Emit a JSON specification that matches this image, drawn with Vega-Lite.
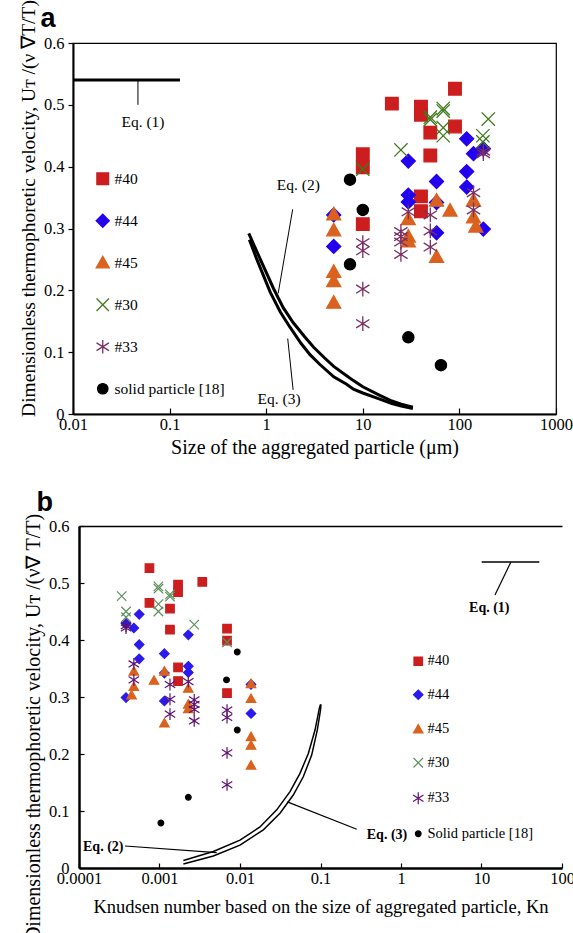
{
"$schema": "https://vega.github.io/schema/vega-lite/v6.json",
"autosize": "none",
"padding": {"left": 73, "top": 43, "right": 500, "bottom": 890},
"background": "white",
"bounds": "flush",
"spacing": 112,
"config": {
  "view": {"stroke": null},
  "axis": {"grid": false, "domainColor": "black", "tickColor": "black", "labelColor": "black", "titleColor": "black", "labelFont": "Liberation Serif", "titleFont": "Liberation Serif", "labelFontSize": 16.5, "titleFontSize": 17, "titleFontWeight": "normal", "domainWidth": 2, "tickWidth": 1.2},
  "legend": {"labelFont": "Liberation Serif", "labelColor": "black"},
  "text": {"font": "Liberation Serif", "color": "black"}
},
"resolve": {
  "scale": {"x": "independent", "y": "independent", "shape": "independent", "fill": "independent", "stroke": "independent"},
  "legend": {"shape": "independent", "fill": "independent", "stroke": "independent"}
},
"datasets": {
  "pts": [
    {"s": "#40", "d": 10, "kn": 0.0069, "u": 0.420},
    {"s": "#40", "d": 10, "kn": 0.0069, "u": 0.399},
    {"s": "#40", "d": 10, "kn": 0.0069, "u": 0.307},
    {"s": "#40", "d": 20, "kn": 0.0034, "u": 0.502},
    {"s": "#40", "d": 40, "kn": 0.0017, "u": 0.497},
    {"s": "#40", "d": 40, "kn": 0.0017, "u": 0.484},
    {"s": "#40", "d": 40, "kn": 0.0017, "u": 0.352},
    {"s": "#40", "d": 40, "kn": 0.0017, "u": 0.328},
    {"s": "#40", "d": 50, "kn": 0.00135, "u": 0.455},
    {"s": "#40", "d": 50, "kn": 0.00135, "u": 0.418},
    {"s": "#40", "d": 90, "kn": 0.00075, "u": 0.526},
    {"s": "#40", "d": 90, "kn": 0.00075, "u": 0.465},
    {"s": "#44", "d": 5, "kn": 0.0137, "u": 0.322},
    {"s": "#44", "d": 5, "kn": 0.0137, "u": 0.271},
    {"s": "#44", "d": 29.6, "kn": 0.00228, "u": 0.409},
    {"s": "#44", "d": 29.6, "kn": 0.00228, "u": 0.354},
    {"s": "#44", "d": 29.6, "kn": 0.00228, "u": 0.343},
    {"s": "#44", "d": 58, "kn": 0.00115, "u": 0.376},
    {"s": "#44", "d": 58, "kn": 0.00115, "u": 0.342},
    {"s": "#44", "d": 58, "kn": 0.00115, "u": 0.293},
    {"s": "#44", "d": 119, "kn": 0.00056, "u": 0.445},
    {"s": "#44", "d": 119, "kn": 0.00056, "u": 0.392},
    {"s": "#44", "d": 119, "kn": 0.00056, "u": 0.367},
    {"s": "#44", "d": 140, "kn": 0.00048, "u": 0.421},
    {"s": "#44", "d": 177, "kn": 0.000384, "u": 0.429},
    {"s": "#44", "d": 177, "kn": 0.000384, "u": 0.299},
    {"s": "#45", "d": 5, "kn": 0.0137, "u": 0.323},
    {"s": "#45", "d": 5, "kn": 0.0137, "u": 0.297},
    {"s": "#45", "d": 5, "kn": 0.0137, "u": 0.230},
    {"s": "#45", "d": 5, "kn": 0.0137, "u": 0.215},
    {"s": "#45", "d": 5, "kn": 0.0137, "u": 0.180},
    {"s": "#45", "d": 29.6, "kn": 0.00228, "u": 0.315},
    {"s": "#45", "d": 29.6, "kn": 0.00228, "u": 0.287},
    {"s": "#45", "d": 29.6, "kn": 0.00228, "u": 0.279},
    {"s": "#45", "d": 58, "kn": 0.00115, "u": 0.345},
    {"s": "#45", "d": 58, "kn": 0.00115, "u": 0.254},
    {"s": "#45", "d": 80, "kn": 0.000855, "u": 0.329},
    {"s": "#45", "d": 140, "kn": 0.00048, "u": 0.345},
    {"s": "#45", "d": 140, "kn": 0.00048, "u": 0.318},
    {"s": "#45", "d": 148, "kn": 0.00045, "u": 0.303},
    {"s": "#30", "d": 10, "kn": 0.0069, "u": 0.396},
    {"s": "#30", "d": 24.8, "kn": 0.0027, "u": 0.427},
    {"s": "#30", "d": 50, "kn": 0.00135, "u": 0.480},
    {"s": "#30", "d": 50, "kn": 0.00135, "u": 0.476},
    {"s": "#30", "d": 68, "kn": 0.00097, "u": 0.494},
    {"s": "#30", "d": 68, "kn": 0.00097, "u": 0.490},
    {"s": "#30", "d": 68, "kn": 0.00097, "u": 0.463},
    {"s": "#30", "d": 68, "kn": 0.00097, "u": 0.450},
    {"s": "#30", "d": 175, "kn": 0.000384, "u": 0.450},
    {"s": "#30", "d": 175, "kn": 0.000384, "u": 0.440},
    {"s": "#30", "d": 199, "kn": 0.000339, "u": 0.477},
    {"s": "#33", "d": 10, "kn": 0.0069, "u": 0.277},
    {"s": "#33", "d": 10, "kn": 0.0069, "u": 0.264},
    {"s": "#33", "d": 10, "kn": 0.0069, "u": 0.202},
    {"s": "#33", "d": 10, "kn": 0.0069, "u": 0.146},
    {"s": "#33", "d": 24.8, "kn": 0.0027, "u": 0.295},
    {"s": "#33", "d": 24.8, "kn": 0.0027, "u": 0.287},
    {"s": "#33", "d": 24.8, "kn": 0.0027, "u": 0.278},
    {"s": "#33", "d": 24.8, "kn": 0.0027, "u": 0.258},
    {"s": "#33", "d": 29.6, "kn": 0.00228, "u": 0.327},
    {"s": "#33", "d": 50, "kn": 0.00135, "u": 0.322},
    {"s": "#33", "d": 50, "kn": 0.00135, "u": 0.296},
    {"s": "#33", "d": 50, "kn": 0.00135, "u": 0.270},
    {"s": "#33", "d": 140, "kn": 0.00048, "u": 0.358},
    {"s": "#33", "d": 140, "kn": 0.00048, "u": 0.330},
    {"s": "#33", "d": 177, "kn": 0.000384, "u": 0.425},
    {"s": "#33", "d": 177, "kn": 0.000384, "u": 0.421},
    {"s": "solid particle [18]", "d": 7.37, "kn": 0.00925, "u": 0.379},
    {"s": "solid particle [18]", "d": 10, "kn": 0.0068, "u": 0.330},
    {"s": "solid particle [18]", "d": 7.37, "kn": 0.00925, "u": 0.242},
    {"s": "solid particle [18]", "d": 29.6, "kn": 0.00228, "u": 0.124},
    {"s": "solid particle [18]", "d": 64.4, "kn": 0.00104, "u": 0.079}
  ],
  "curveA": [
    {"eq": "1", "d": 0.01, "u": 0.54}, {"eq": "1", "d": 0.128, "u": 0.54},
    {"eq": "2", "d": 0.66, "u": 0.292}, {"eq": "2", "d": 0.87, "u": 0.250}, {"eq": "2", "d": 1.19, "u": 0.203}, {"eq": "2", "d": 1.5, "u": 0.172}, {"eq": "2", "d": 1.9, "u": 0.148}, {"eq": "2", "d": 2.5, "u": 0.125}, {"eq": "2", "d": 3.1, "u": 0.108}, {"eq": "2", "d": 4.0, "u": 0.091}, {"eq": "2", "d": 5.0, "u": 0.077}, {"eq": "2", "d": 6.8, "u": 0.062}, {"eq": "2", "d": 8.0, "u": 0.054}, {"eq": "2", "d": 10, "u": 0.044}, {"eq": "2", "d": 15, "u": 0.030}, {"eq": "2", "d": 20, "u": 0.021}, {"eq": "2", "d": 25, "u": 0.016}, {"eq": "2", "d": 33, "u": 0.011},
    {"eq": "3", "d": 0.67, "u": 0.282}, {"eq": "3", "d": 0.8, "u": 0.250}, {"eq": "3", "d": 1.1, "u": 0.197}, {"eq": "3", "d": 1.4, "u": 0.165}, {"eq": "3", "d": 1.77, "u": 0.140}, {"eq": "3", "d": 2.3, "u": 0.114}, {"eq": "3", "d": 2.84, "u": 0.096}, {"eq": "3", "d": 3.6, "u": 0.080}, {"eq": "3", "d": 5.0, "u": 0.060}, {"eq": "3", "d": 6.8, "u": 0.048}, {"eq": "3", "d": 8.0, "u": 0.040}, {"eq": "3", "d": 10, "u": 0.034}, {"eq": "3", "d": 15, "u": 0.024}, {"eq": "3", "d": 20, "u": 0.017}, {"eq": "3", "d": 25, "u": 0.013}, {"eq": "3", "d": 33, "u": 0.009}
  ],
  "curveB": [
    {"eq": "1", "kn": 10.05, "u": 0.537}, {"eq": "1", "kn": 52.3, "u": 0.537},
    {"eq": "2", "kn": 0.00198, "u": 0.013}, {"eq": "2", "kn": 0.00466, "u": 0.029}, {"eq": "2", "kn": 0.01, "u": 0.049}, {"eq": "2", "kn": 0.0177, "u": 0.072}, {"eq": "2", "kn": 0.0286, "u": 0.102}, {"eq": "2", "kn": 0.0418, "u": 0.134}, {"eq": "2", "kn": 0.0556, "u": 0.166}, {"eq": "2", "kn": 0.0706, "u": 0.201}, {"eq": "2", "kn": 0.0855, "u": 0.242}, {"eq": "2", "kn": 0.0967, "u": 0.280}, {"eq": "2", "kn": 0.1, "u": 0.287},
    {"eq": "3", "kn": 0.00198, "u": 0.007}, {"eq": "3", "kn": 0.00466, "u": 0.021}, {"eq": "3", "kn": 0.01, "u": 0.040}, {"eq": "3", "kn": 0.0195, "u": 0.067}, {"eq": "3", "kn": 0.0314, "u": 0.096}, {"eq": "3", "kn": 0.0459, "u": 0.128}, {"eq": "3", "kn": 0.0611, "u": 0.160}, {"eq": "3", "kn": 0.0777, "u": 0.198}, {"eq": "3", "kn": 0.0912, "u": 0.242}, {"eq": "3", "kn": 0.1, "u": 0.277}, {"eq": "3", "kn": 0.1014, "u": 0.287}
  ],
  "leadA": [
    {"d": 0.047, "u": 0.54, "d2": 0.047, "u2": 0.50},
    {"d": 1.88, "u": 0.331, "d2": 1.33, "u2": 0.195},
    {"d": 1.9, "u": 0.039, "d2": 1.67, "u2": 0.122}
  ],
  "annA": [
    {"t": "Eq. (1)", "d": 0.053, "u": 0.473},
    {"t": "Eq. (2)", "d": 2.15, "u": 0.370},
    {"t": "Eq. (3)", "d": 1.36, "u": 0.025}
  ],
  "leadB": [
    {"kn": 23.2, "u": 0.537, "kn2": 14.7, "u2": 0.479},
    {"kn": 0.000373, "u": 0.0386, "kn2": 0.00514, "u2": 0.027},
    {"kn": 0.0387, "u": 0.116, "kn2": 0.282, "u2": 0.068}
  ],
  "annB": [
    {"t": "Eq. (1)", "kn": 12.5, "u": 0.456},
    {"t": "Eq. (2)", "kn": 0.0002, "u": 0.037},
    {"t": "Eq. (3)", "kn": 0.67, "u": 0.058}
  ]
},
"vconcat": [
  {
    "width": 483, "height": 371,
    "view": {"stroke": "black", "strokeWidth": 1.2},
    "resolve": {"axis": {"x": "independent"}},
    "encoding": {
      "y": {"field": "u", "type": "quantitative", "title": "Dimensionless thermophoretic velocity, Uᴛ /(ν ∇T/T)",
            "scale": {"domain": [0, 0.6]},
            "axis": {"values": [0, 0.1, 0.2, 0.3, 0.4, 0.5, 0.6], "labelExpr": "datum.value == 0 ? '0' : format(datum.value, '.1f')", "tickSize": 5, "labelPadding": 4, "titlePadding": 5, "titleY": 165, "titleFontSize": 19.5}}
    },
    "layer": [
      {"data": {"name": "curveA"}, "mark": {"type": "line", "color": "black", "strokeWidth": 3},
       "encoding": {
         "x": {"field": "d", "type": "quantitative", "title": "a",
               "axis": {"orient": "top", "domain": false, "ticks": false, "labels": false, "titleX": -33, "titleY": -17, "titleAlign": "left", "titleBaseline": "alphabetic", "titleFont": "Liberation Sans", "titleFontSize": 27, "titleFontWeight": "bold"}},
         "detail": {"field": "eq"}}},
      {"data": {"name": "leadA"}, "mark": {"type": "rule", "color": "black", "strokeWidth": 1},
       "encoding": {"x": {"field": "d", "type": "quantitative", "axis": null}, "x2": {"field": "d2"}, "y2": {"field": "u2"}}},
      {"data": {"name": "annA"}, "mark": {"type": "text", "fontSize": 15.5, "align": "center", "baseline": "middle"},
       "encoding": {"x": {"field": "d", "type": "quantitative", "axis": null}, "text": {"field": "t"}}},
      {"data": {"name": "pts"}, "mark": {"type": "point", "filled": true, "opacity": 1, "size": 196, "strokeWidth": 1.3},
       "encoding": {
         "x": {"field": "d", "type": "quantitative", "title": "Size of the aggregated particle (μm)",
               "scale": {"type": "log", "domain": [0.01, 1000]},
               "axis": {"orient": "bottom", "values": [0.01, 0.1, 1, 10, 100, 1000], "labelExpr": "'' + datum.value", "tickSize": -6, "labelPadding": 8, "titleFontSize": 20, "titlePadding": 5, "labelFlush": false}},
         "shape": {"field": "s", "type": "nominal",
           "scale": {"domain": ["#40", "#44", "#45", "#30", "#33", "solid particle [18]"],
                     "range": ["M-0.9,-0.9H0.9V0.9H-0.9Z", "M0,-1L1,0L0,1L-1,0Z", "M0,-1L1,0.78L-1,0.78Z", "M-0.95,-0.95L0.95,0.95M-0.95,0.95L0.95,-0.95", "M0,-1.05V1.05M-0.95,-0.6L0.95,0.6M-0.95,0.6L0.95,-0.6", "M0.8,0A0.8,0.8,0,1,1,-0.8,0A0.8,0.8,0,1,1,0.8,0Z"]},
           "legend": {"orient": "none", "legendX": 22, "legendY": 128, "title": null, "symbolSize": 170, "labelFontSize": 15.5, "rowPadding": 23, "labelOffset": 4, "padding": 0, "symbolStrokeWidth": 1.3}},
         "fill": {"field": "s", "type": "nominal", "scale": {"domain": ["#40", "#44", "#45", "#30", "#33", "solid particle [18]"], "range": ["#CC1E1E", "#2200EE", "#DA621E", "#3D7A1A", "#7B2E62", "#000000"]}},
         "stroke": {"field": "s", "type": "nominal", "scale": {"domain": ["#40", "#44", "#45", "#30", "#33", "solid particle [18]"], "range": ["#CC1E1E", "#2200EE", "#DA621E", "#3D7A1A", "#7B2E62", "#000000"]}}
       }}
    ]
  },
  {
    "width": 489, "height": 342,
    "resolve": {"axis": {"x": "independent"}},
    "encoding": {
      "y": {"field": "u", "type": "quantitative", "title": "Dimensionless thermophoretic velocity,  Uᴛ /(ν∇  T/T)",
            "scale": {"domain": [0, 0.6]},
            "axis": {"values": [0, 0.1, 0.2, 0.3, 0.4, 0.5, 0.6], "labelExpr": "datum.value == 0 ? '0' : format(datum.value, '.1f')", "offset": -6, "tickSize": -5, "labelPadding": 15, "titlePadding": 5, "titleY": 201, "titleFontSize": 20, "domainWidth": 2.5}}
    },
    "layer": [
      {"data": {"values": [{}]}, "mark": {"type": "rule", "color": "black", "strokeWidth": 1.5},
       "encoding": {"x": {"datum": 100, "axis": null}, "y": {"datum": 0}, "y2": {"datum": 0.6}}},
      {"data": {"name": "curveB"}, "mark": {"type": "line", "color": "black", "strokeWidth": 1.5},
       "encoding": {
         "x": {"field": "kn", "type": "quantitative", "title": "b",
               "axis": {"orient": "top", "domain": true, "domainWidth": 1.5, "ticks": false, "labels": false, "titleX": -37, "titleY": -16, "titleAlign": "left", "titleBaseline": "alphabetic", "titleFont": "Liberation Sans", "titleFontSize": 27, "titleFontWeight": "bold"}},
         "detail": {"field": "eq"}}},
      {"data": {"name": "leadB"}, "mark": {"type": "rule", "color": "black", "strokeWidth": 1.2},
       "encoding": {"x": {"field": "kn", "type": "quantitative", "axis": null}, "x2": {"field": "kn2"}, "y2": {"field": "u2"}}},
      {"data": {"name": "annB"}, "mark": {"type": "text", "fontSize": 14, "fontWeight": "bold", "align": "center", "baseline": "middle"},
       "encoding": {"x": {"field": "kn", "type": "quantitative", "axis": null}, "text": {"field": "t"}}},
      {"data": {"name": "pts"}, "mark": {"type": "point", "filled": true, "opacity": 1, "size": 90, "strokeWidth": 1.2},
       "encoding": {
         "x": {"field": "kn", "type": "quantitative", "title": "Knudsen number  based on the size of aggregated particle, Kn",
               "scale": {"type": "log", "domain": [0.0001, 100], "range": [6, 489]},
               "axis": {"orient": "bottom", "values": [0.0001, 0.001, 0.01, 0.1, 1, 10, 100], "labelExpr": "'' + datum.value", "tickSize": -5, "labelPadding": 7, "titleFontSize": 18.5, "titlePadding": 11, "labelFlush": false, "domainWidth": 2.5}},
         "shape": {"field": "s", "type": "nominal",
           "scale": {"domain": ["#40", "#44", "#45", "#30", "#33", "solid particle [18]"],
                     "range": ["M-0.9,-0.9H0.9V0.9H-0.9Z", "M0,-1L1,0L0,1L-1,0Z", "M0,-1L1,0.78L-1,0.78Z", "M-1,-1L1,1M-1,1L1,-1", "M0,-1.25V1.25M-1.1,-0.7L1.1,0.7M-1.1,0.7L1.1,-0.7", "M0.6,0A0.6,0.6,0,1,1,-0.6,0A0.6,0.6,0,1,1,0.6,0Z"]},
           "legend": {"orient": "none", "legendX": 338, "legendY": 128, "title": null, "symbolSize": 90, "labelFontSize": 14.5, "rowPadding": 18.5, "labelOffset": 2, "padding": 0, "symbolStrokeWidth": 1.2, "labelExpr": "datum.label == 'solid particle [18]' ? 'Solid particle [18]' : datum.label"}},
         "fill": {"field": "s", "type": "nominal", "scale": {"domain": ["#40", "#44", "#45", "#30", "#33", "solid particle [18]"], "range": ["#CC1E1E", "#2A1AEE", "#DA621E", "#5C905C", "#5E1270", "#000000"]}},
         "stroke": {"field": "s", "type": "nominal", "scale": {"domain": ["#40", "#44", "#45", "#30", "#33", "solid particle [18]"], "range": ["#CC1E1E", "#2A1AEE", "#DA621E", "#5C905C", "#5E1270", "#000000"]}}
       }}
    ]
  }
]
}
